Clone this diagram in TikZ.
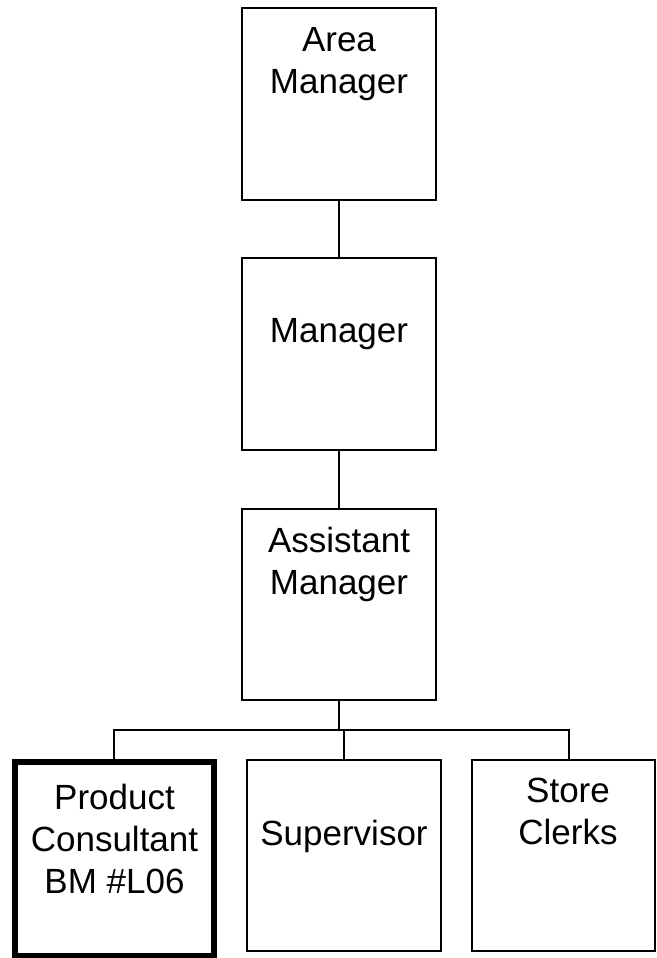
\documentclass[tikz,border=0pt]{standalone}
\usepackage{fontspec}
\setmainfont{Liberation Sans}
\usetikzlibrary{positioning}
\tikzset{
  post/.style = {rectangle, draw=black, line width=2pt, inner sep=0pt,
    minimum width=194pt, minimum height=192pt},
  post_me/.style = {post, line width=6pt,
    minimum width=199pt, minimum height=194pt},% own post, thick frame
  title/.style = {align=center, inner sep=0pt, text centered,
    font=\fontsize{35}{42}\selectfont},
  link/.style = {draw=black, line width=2pt}
}

\begin{document}
\begin{tikzpicture}[x=1pt, y=-1pt]
\useasboundingbox (0,0) rectangle (656,958);
% chain of command
\node (area) [post] at (339,104) {};
\node (mgr) [post] at (339,354) {};
\node (asst) [post, minimum height=191pt] at (339,604.5) {};
%
\node (prod) [post_me] at (114.5,859) {};
\node (sup) [post, minimum height=191.5pt] at (344,855.7) {};
\node (clerks) [post, minimum width=183pt, minimum height=191.5pt] at (563.5,855.7) {};
%
\node (t_area) [title, below=20pt of area.north] {Area\\Manager};
\node (t_mgr) [title, below=61pt of mgr.north] {Manager};
\node (t_asst) [title, below=19pt of asst.north] {Assistant\\Manager};
\node (t_prod) [title, below=25pt of prod.north] {Product\\Consultant\\BM \#L06};
\node (t_sup) [title, below=61pt of sup.north] {Supervisor};
\node (t_clerks) [title, below=19pt of clerks.north, xshift=4.5pt] {Store\\Clerks};
%
\coordinate (barL) at (114,730);
\coordinate (barR) at (569,730);
\draw[link] (area) -- (mgr);
\draw[link] (mgr) -- (asst);
\draw[link] (asst.south) -- (asst.south |- barL);
\draw[link] (barL |- prod.north) -- (barL) -- (barR) -- (barR |- clerks.north);
\draw[link] (sup.north) -- (sup.north |- barL);
\end{tikzpicture}
\end{document}
